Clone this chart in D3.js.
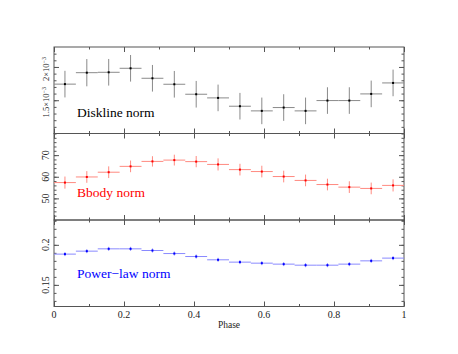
<!DOCTYPE html>
<meta charset="utf-8">
<script src="https://d3js.org/d3.v7.min.js"></script>
<style>
  body { margin: 0; background: #fff; }
</style>
<div id="chart"></div>
<script>

// phase bins (centres) and half bin width
var phase = [0.03125, 0.09375, 0.15625, 0.21875, 0.28125, 0.34375, 0.40625, 0.46875,
             0.53125, 0.59375, 0.65625, 0.71875, 0.78125, 0.84375, 0.90625, 0.96875]
var halfBin = 0.03125

// diskline norm
var diskNorm = [1.742e-3, 1.914e-3, 1.92e-3, 1.98e-3, 1.83e-3, 1.74e-3, 1.59e-3, 1.535e-3,
                1.41e-3, 1.34e-3, 1.39e-3, 1.34e-3, 1.495e-3, 1.495e-3, 1.595e-3, 1.76e-3]
var diskErr  = [0.2e-3, 0.205e-3, 0.2e-3, 0.2e-3, 0.2e-3, 0.2e-3, 0.2e-3, 0.2e-3,
                0.2e-3, 0.2e-3, 0.2e-3, 0.2e-3, 0.2e-3, 0.2e-3, 0.2e-3, 0.2e-3]

// bbody norm
var bbodyNorm = [57.3, 59.9, 62.1, 64.8, 67.1, 67.7, 67.0, 65.7,
                 63.3, 62.4, 60.1, 58.3, 56.4, 55.2, 54.6, 56.0]
var bbodyErr  = [2.8, 2.7, 2.7, 2.7, 2.4, 2.5, 2.6, 2.8,
                 2.7, 2.7, 2.7, 2.7, 2.7, 2.7, 2.7, 2.8]

// power-law norm
var plNorm = [0.1884, 0.1921, 0.195, 0.195, 0.1929, 0.1891, 0.1854, 0.1813,
              0.1784, 0.1771, 0.1759, 0.1746, 0.1746, 0.1759, 0.18, 0.1834]
var plErr  = [0.0025, 0.0025, 0.0025, 0.0025, 0.0025, 0.0025, 0.0025, 0.0025,
              0.0025, 0.0025, 0.0025, 0.0025, 0.0025, 0.0025, 0.0025, 0.0025]

// tick labels
var xTicks = [0, 0.2, 0.4, 0.6, 0.8, 1]
var diskTicks = [1.5e-3, 2e-3]
var diskTickLabels = ["1.5×10", "2×10"]
var bbodyTicks = [50, 60, 70]
var plTicks = [0.15, 0.2]

var width = 458, height = 354
var plotLeft = 54, plotRight = 404, plotTop = 47, panelH = 86.5
var serif = "'Liberation Serif', 'Times New Roman', Times, serif"

var svg = d3.select("#chart").append("svg")
  .attr("width", width)
  .attr("height", height)

var x = d3.scaleLinear().domain([0, 1]).range([plotLeft, plotRight])

var panels = [
  { name: "Diskline norm", color: "#000000", bar: "#8a8a8a", values: diskNorm, errs: diskErr,
    domain: [1.0e-3, 2.3e-3], minor: 0.1e-3, ticks: diskTicks, labelY: 116.5, sci: true },
  { name: "Bbody norm", color: "#ff0000", bar: "#ff8a80", values: bbodyNorm, errs: bbodyErr,
    domain: [40, 80], minor: 2, ticks: bbodyTicks, labelY: 196.5 },
  { name: "Power\u2212law norm", color: "#0000ff", bar: "#8a8aff", values: plNorm, errs: plErr,
    domain: [0.123, 0.231], minor: 0.01, ticks: plTicks, labelY: 278 }
]

panels.forEach(function(p, i) {
  var y0 = plotTop + i * panelH, y1 = y0 + panelH
  var y = d3.scaleLinear().domain(p.domain).range([y1, y0])
  var g = svg.append("g")

  // minor ticks
  var minorVals = d3.range(Math.ceil(p.domain[0] / p.minor) * p.minor, p.domain[1], p.minor)
  g.append("g").attr("transform", "translate(" + plotLeft + ",0)")
    .call(d3.axisLeft(y).tickValues(minorVals).tickSize(-2.5).tickFormat(""))
  g.append("g").attr("transform", "translate(" + plotRight + ",0)")
    .call(d3.axisRight(y).tickValues(minorVals).tickSize(-2.5).tickFormat(""))
  // major ticks
  g.append("g").attr("transform", "translate(" + plotLeft + ",0)")
    .call(d3.axisLeft(y).tickValues(p.ticks).tickSize(-5).tickFormat(""))
  g.append("g").attr("transform", "translate(" + plotRight + ",0)")
    .call(d3.axisRight(y).tickValues(p.ticks).tickSize(-5).tickFormat(""))

  // x ticks top and bottom of every panel
  var xMinor = [0.1, 0.3, 0.5, 0.7, 0.9]
  g.append("g").attr("transform", "translate(0," + y0 + ")")
    .call(d3.axisTop(x).tickValues(xTicks).tickSize(-5).tickFormat(""))
  g.append("g").attr("transform", "translate(0," + y0 + ")")
    .call(d3.axisTop(x).tickValues(xMinor).tickSize(-2.5).tickFormat(""))
  g.append("g").attr("transform", "translate(0," + y1 + ")")
    .call(d3.axisBottom(x).tickValues(xTicks).tickSize(-5).tickFormat(""))
  g.append("g").attr("transform", "translate(0," + y1 + ")")
    .call(d3.axisBottom(x).tickValues(xMinor).tickSize(-2.5).tickFormat(""))

  g.selectAll(".domain").remove()
  g.selectAll(".tick line").attr("stroke", "#555")

  // frame
  g.append("rect")
    .attr("x", plotLeft).attr("y", y0)
    .attr("width", plotRight - plotLeft).attr("height", panelH)
    .attr("fill", "none").attr("stroke", "#555").attr("stroke-width", 1)

  // rotated y tick labels
  var lab = g.selectAll(".ylab").data(p.ticks).enter().append("text")
    .attr("class", "ylab")
    .attr("text-anchor", "middle")
    .attr("font-family", serif)
    .attr("fill", "#222")
  if (p.sci) {
    lab.attr("transform", function(d) { return "translate(49," + (y(d) + 2) + ") rotate(-90)" })
      .attr("font-size", "8.5px")
      .text(function(d, j) { return diskTickLabels[j] })
      .append("tspan").attr("dy", "-3.5").attr("font-size", "6px").text("\u22123")
  } else {
    lab.attr("transform", function(d) { return "translate(49," + y(d) + ") rotate(-90)" })
      .attr("font-size", "10px")
      .text(function(d) { return d })
  }

  // error bars
  var data = phase.map(function(ph, j) { return { x: ph, v: p.values[j], e: p.errs[j] } })
  g.selectAll(".hbar").data(data).enter().append("line")
    .attr("x1", function(d) { return x(d.x - halfBin) })
    .attr("x2", function(d) { return x(d.x + halfBin) })
    .attr("y1", function(d) { return y(d.v) })
    .attr("y2", function(d) { return y(d.v) })
    .attr("stroke", p.bar).attr("stroke-width", 1)
  g.selectAll(".vbar").data(data).enter().append("line")
    .attr("x1", function(d) { return x(d.x) })
    .attr("x2", function(d) { return x(d.x) })
    .attr("y1", function(d) { return y(d.v - d.e) })
    .attr("y2", function(d) { return y(d.v + d.e) })
    .attr("stroke", p.bar).attr("stroke-width", 1)
  g.selectAll(".pt").data(data).enter().append("rect")
    .attr("x", function(d) { return x(d.x) - 1 })
    .attr("y", function(d) { return y(d.v) - 1 })
    .attr("width", 2).attr("height", 2)
    .attr("fill", p.color)

  // panel label
  g.append("text")
    .attr("x", 77).attr("y", p.labelY)
    .attr("font-family", serif)
    .attr("font-size", "13.5px")
    .attr("fill", p.color)
    .text(p.name)
})

// x tick labels under bottom panel
var yBottom = plotTop + 3 * panelH
svg.selectAll(".xlab").data(xTicks).enter().append("text")
  .attr("x", function(d) { return x(d) })
  .attr("y", yBottom + 11)
  .attr("text-anchor", "middle")
  .attr("font-family", serif)
  .attr("font-size", "10px")
  .attr("fill", "#222")
  .text(function(d) { return d })

svg.append("text")
  .attr("x", (plotLeft + plotRight) / 2).attr("y", yBottom + 21)
  .attr("text-anchor", "middle")
  .attr("font-family", serif)
  .attr("font-size", "9.5px")
  .attr("fill", "#222")
  .text("Phase")

</script>
